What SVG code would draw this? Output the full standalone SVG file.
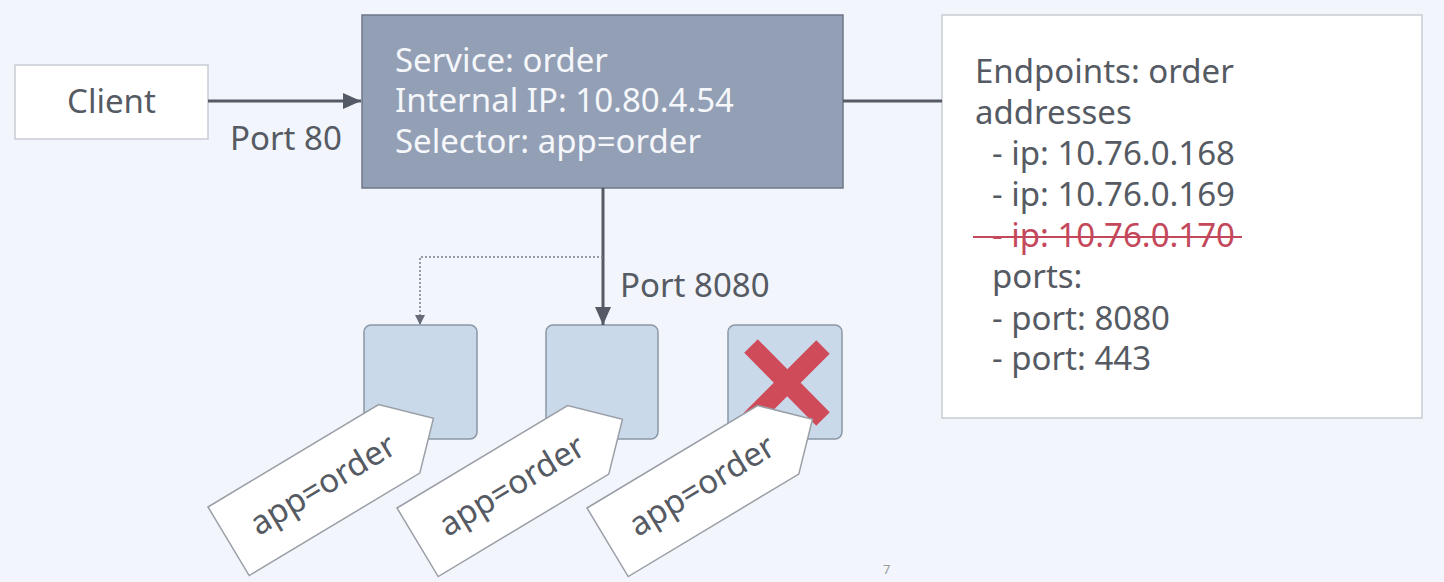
<svg xmlns="http://www.w3.org/2000/svg" width="1444" height="582" viewBox="0 0 1444 582">
<defs>
<style>
.t{font-family:"Noto Sans","Open Sans","Liberation Sans",sans-serif;font-size:33px;fill:#555a63}
.w{fill:#f5f7fb}
.red{fill:#c4485b}
.box{fill:#ffffff;stroke:#c9cdd4;stroke-width:1.5}
.pod{fill:#cad9ea;stroke:#8b96a6;stroke-width:1.5}
.tag{fill:#ffffff;stroke:#9a9ea6;stroke-width:1.5}
.conn{stroke:#555b66;stroke-width:3;fill:none}
</style>
<marker id="arr" viewBox="0 0 18 16" refX="18" refY="8" markerWidth="18" markerHeight="16" markerUnits="userSpaceOnUse" orient="auto"><path d="M0,0 L18,8 L0,16 z" fill="#555b66"/></marker>
<marker id="arrs" viewBox="0 0 10 10" refX="10" refY="5" markerWidth="10" markerHeight="10" markerUnits="userSpaceOnUse" orient="auto"><path d="M0,0 L10,5 L0,10 z" fill="#666b75"/></marker>
</defs>
<rect width="1444" height="582" fill="#f2f5fb"/>

<g id="client">
<rect class="box" x="15" y="65" width="193" height="74"/>
<text class="t" x="111.5" y="113" text-anchor="middle">Client</text>
</g>

<g id="service">
<rect x="362" y="15" width="481" height="173" fill="#939fb4" stroke="#6f7888" stroke-width="1.5"/>
<text class="t w" x="395" y="72">Service: order</text>
<text class="t w" x="395" y="112">Internal IP: 10.80.4.54</text>
<text class="t w" x="395" y="153">Selector: app=order</text>
</g>

<g id="endpoints">
<rect class="box" x="942" y="15" width="480" height="403"/>
<text class="t" x="975" y="83">Endpoints: order</text>
<text class="t" x="975" y="124">addresses</text>
<text class="t" x="992" y="165">- ip: 10.76.0.168</text>
<text class="t" x="992" y="206">- ip: 10.76.0.169</text>
<text class="t red" x="992" y="247">- ip: 10.76.0.170</text>
<line x1="973" y1="237" x2="1242" y2="237" stroke="#c4485b" stroke-width="2"/>
<text class="t" x="992" y="288">ports:</text>
<text class="t" x="992" y="330">- port: 8080</text>
<text class="t" x="992" y="370">- port: 443</text>
</g>

<g id="pod1"><rect class="pod" x="364" y="325" width="113" height="114" rx="7"/></g>
<g id="pod2"><rect class="pod" x="546" y="325" width="112" height="114" rx="7"/></g>
<g id="pod3"><rect class="pod" x="728" y="325" width="114" height="114" rx="7"/>
<path d="M751,346 L823,419 M823,347 L750,420" stroke="#d04b5a" stroke-width="19" fill="none"/>
</g>

<g id="tag1" transform="translate(208,507) rotate(-31)">
<polygon class="tag" points="0,0 199,0 239,40 199,80 0,80"/>
<text class="t" x="110" y="51" text-anchor="middle">app=order</text>
</g>
<g id="tag2" transform="translate(397,508) rotate(-31)">
<polygon class="tag" points="0,0 199,0 239,40 199,80 0,80"/>
<text class="t" x="110" y="51" text-anchor="middle">app=order</text>
</g>
<g id="tag3" transform="translate(587,508) rotate(-31)">
<polygon class="tag" points="0,0 199,0 239,40 199,80 0,80"/>
<text class="t" x="110" y="51" text-anchor="middle">app=order</text>
</g>

<g id="connectors">
<line class="conn" x1="208" y1="101" x2="361" y2="101" marker-end="url(#arr)"/>
<line class="conn" x1="843" y1="101" x2="942" y2="101"/>
<line class="conn" x1="603" y1="188" x2="603" y2="325" marker-end="url(#arr)"/>
<polyline points="603,257 420,257 420,325" fill="none" stroke="#777c86" stroke-width="1.5" stroke-dasharray="2,2" marker-end="url(#arrs)"/>
<text class="t" x="230" y="150">Port 80</text>
<text class="t" x="620" y="297">Port 8080</text>
</g>

<text x="883" y="574" font-family="'Noto Sans','Liberation Sans',sans-serif" font-size="13" fill="#999">7</text>
</svg>
